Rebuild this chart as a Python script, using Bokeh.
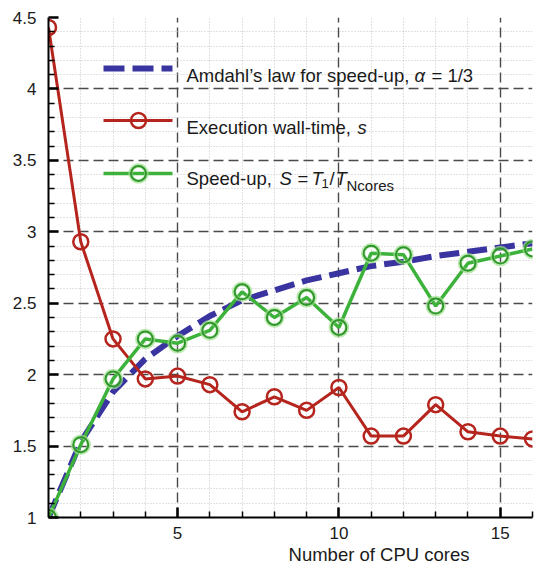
from bokeh.plotting import figure
from bokeh.models import Range1d, FixedTicker, Label, Title
from bokeh.embed import file_html
from bokeh.resources import INLINE

# ---- data ----
cores = [1, 2, 3, 4, 5, 6, 7, 8, 9, 10, 11, 12, 13, 14, 15, 16]
amdahl = [1.00, 1.53, 1.88, 2.11, 2.27, 2.41, 2.52, 2.59, 2.66, 2.71, 2.76, 2.79, 2.83, 2.86, 2.89, 2.92]
walltime = [4.43, 2.93, 2.25, 1.97, 1.99, 1.93, 1.74, 1.845, 1.75, 1.91, 1.57, 1.57, 1.79, 1.60, 1.57, 1.55]
speedup = [1.00, 1.51, 1.97, 2.25, 2.22, 2.31, 2.58, 2.40, 2.54, 2.33, 2.85, 2.84, 2.48, 2.78, 2.83, 2.88]

x_ticks = [5, 10, 15]
x_minor = [2, 3, 4, 6, 7, 8, 9, 11, 12, 13, 14, 16]
y_ticks = [1, 1.5, 2, 2.5, 3, 3.5, 4, 4.5]
y_tick_labels = ["1", "1.5", "2", "2.5", "3", "3.5", "4", "4.5"]
y_minor = [round(1 + 0.1 * i, 1) for i in range(36) if i % 5 != 0]

FONT = "Liberation Sans"
BLUE = "#3a34a0"
RED = "#b5241d"
GREEN = "#3cb23a"
GREEN_DK = "#2f962c"

p = figure(width=536, height=571, output_backend="svg", toolbar_location=None,
           x_range=Range1d(1, 16), y_range=Range1d(1, 4.5),
           min_border_left=48, min_border_right=4, min_border_top=17, min_border_bottom=54)
p.outline_line_color = None
p.background_fill_color = "white"

# axes
p.xaxis.ticker = FixedTicker(ticks=x_ticks, minor_ticks=x_minor)
p.yaxis.ticker = FixedTicker(ticks=y_ticks, minor_ticks=y_minor)
p.yaxis.major_label_overrides = {t: l for t, l in zip(y_ticks, y_tick_labels)}
for ax in (p.xaxis, p.yaxis):
    ax.axis_line_width = 2
    ax.axis_line_color = "black"
    ax.major_tick_in = 10
    ax.major_tick_out = 0
    ax.major_tick_line_width = 2.5
    ax.minor_tick_in = 6
    ax.minor_tick_out = 0
    ax.minor_tick_line_width = 1.5
    ax.major_label_text_font = FONT
    ax.major_label_text_font_size = "17px"
    ax.major_label_text_color = "#1a1a1a"
p.yaxis.major_label_standoff = 12
p.xaxis.major_label_standoff = 9

# grids
for g in (p.xgrid, p.ygrid):
    g.grid_line_color = "#4a4a4a"
    g.grid_line_dash = "10 5"
    g.grid_line_width = 1.4
    g.minor_grid_line_color = "#c4c4c4"
    g.minor_grid_line_dash = "1 2"
    g.minor_grid_line_width = 1

# series
p.line(cores, amdahl, line_color=BLUE, line_width=6, line_dash="20 8")
p.line(cores, walltime, line_color=RED, line_width=3)
p.scatter(cores, walltime, marker="circle", size=15, fill_color=None, line_color=RED, line_width=2.5)
p.line(cores, speedup, line_color=GREEN, line_width=3.5)
p.scatter(cores, speedup, marker="circle", size=16, fill_color=None, line_color="#9fe08f", line_width=4.5, line_alpha=0.7)
p.scatter(cores, speedup, marker="circle", size=15, fill_color=None, line_color=GREEN_DK, line_width=2)

# helpers to place layout items by pixel position in the frame
def dx(px):
    return 1 + (px - 48) * 15 / 484

def dy(py):
    return 1 + (517 - py) * 3.5 / 500

# manual legend
p.line([dx(103), dx(172)], [dy(68), dy(68)], line_color=BLUE, line_width=6, line_dash="21 8")
p.line([dx(103), dx(172)], [dy(120), dy(120)], line_color=RED, line_width=3)
p.scatter([dx(138)], [dy(120)], marker="circle", size=15, fill_color=None, line_color=RED, line_width=2.5)
p.line([dx(103), dx(172)], [dy(173), dy(173)], line_color=GREEN, line_width=3.5)
p.scatter([dx(138)], [dy(173)], marker="circle", size=16, fill_color=None, line_color="#9fe08f", line_width=4.5, line_alpha=0.7)
p.scatter([dx(138)], [dy(173)], marker="circle", size=15, fill_color=None, line_color=GREEN_DK, line_width=2)

def txt(s, px, py, size="18.5px", style="normal"):
    p.add_layout(Label(x=dx(px), y=dy(py), text=s, text_font=FONT, text_font_size=size,
                       text_font_style=style, text_color="#1a1a1a",
                       text_align="left", text_baseline="alphabetic"))

txt("Amdahl\u2019s law for speed-up,", 186, 75)
txt("\u03b1", 414, 75, style="italic")
txt("= 1/3", 431, 75)
txt("Execution wall-time,", 186, 127)
txt("s", 357, 127, style="italic")
txt("Speed-up,", 186, 178)
txt("S", 279, 178, style="italic")
txt("=", 297, 178)
txt("T", 311, 178, style="italic")
txt("1", 321, 183, size="13px")
txt("/", 329, 178)
txt("T", 335, 178, style="italic")
txt("Ncores", 346, 185, size="15px")

# x axis title (placed as a title below the axis, right-aligned with an offset)
p.add_layout(Title(text="Number of CPU cores", align="right", offset=63, standoff=0,
                   text_font=FONT, text_font_size="18.5px", text_font_style="normal",
                   text_color="#1a1a1a"), "below")

open("out.html", "w").write(file_html(p, INLINE))
